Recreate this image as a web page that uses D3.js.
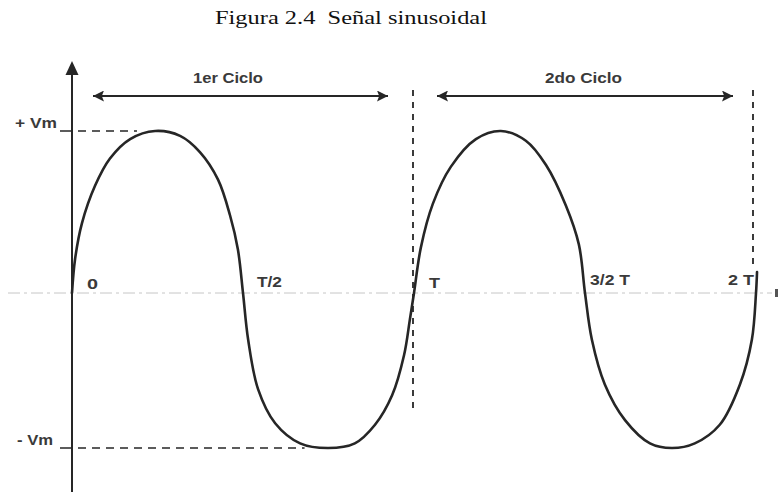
<!DOCTYPE html>
<html>
<head>
<meta charset="utf-8">
<script src="https://cdn.jsdelivr.net/npm/d3@7"></script>
<style>
  html, body { margin: 0; padding: 0; background: #fff; }
  svg { display: block; }
  text { white-space: pre; }
</style>
</head>
<body>
<svg id="chart" width="779" height="494"></svg>
<script>
// ---- data (phase in periods T, value in units of Vm) ----
const phase = [0, 0.009, 0.029, 0.067, 0.111, 0.170, 0.243, 0.316, 0.374, 0.427, 0.462, 0.485, 0.5,
               0.515, 0.544, 0.594, 0.667, 0.749, 0.827, 0.886, 0.936, 0.971, 0.988, 1.0,
               1.020, 1.055, 1.108, 1.181, 1.254, 1.327, 1.386, 1.444, 1.482, 1.5,
               1.520, 1.558, 1.617, 1.690, 1.754, 1.821, 1.894, 1.953, 1.988, 2.0, 2.003];
const values = [0, 0.21, 0.43, 0.66, 0.83, 0.95, 1.0, 0.97, 0.87, 0.70, 0.48, 0.27, 0,
                -0.30, -0.62, -0.84, -0.97, -1.0, -0.97, -0.85, -0.66, -0.40, -0.17, 0,
                0.28, 0.55, 0.78, 0.95, 1.0, 0.94, 0.79, 0.54, 0.30, 0,
                -0.30, -0.59, -0.82, -0.97, -1.0, -0.97, -0.85, -0.59, -0.30, 0, 0.13];
const xTickVals = [0, 0.5, 1, 1.5, 2];
const xTickLabels = ["0", "T/2", "T", "3/2 T", "2 T"];
const yTickVals = [1, -1];
const yTickLabels = ["+ Vm", "- Vm"];
const cycleStarts = [0, 1];
const cycleLabels = ["1er Ciclo", "2do Ciclo"];
const title = "Figura 2.4  Señal sinusoidal";

// ---- scales ----
const x = d3.scaleLinear().domain([0, 2]).range([72, 756]);
const y = d3.scaleLinear().domain([-1, 0, 1]).range([448, 293, 131]);

const svg = d3.select("#chart");
const ink = "#262626";
const labelInk = "#3a3a3a";
const labelFont = "'Liberation Sans', Arial, sans-serif";

// title (scan is horizontally stretched -> force its width)
svg.append("text")
  .attr("x", 215).attr("y", 24)
  .attr("font-family", "'Liberation Serif', 'Times New Roman', serif")
  .attr("font-size", 19.5)
  .attr("fill", "#111")
  .attr("textLength", 272).attr("lengthAdjust", "spacingAndGlyphs")
  .text(title);

// horizontal (time) axis - faint dotted line
svg.append("line")
  .attr("x1", 8).attr("x2", 772)
  .attr("y1", y(0)).attr("y2", y(0))
  .attr("stroke", "#c6c6c6").attr("stroke-width", 1)
  .attr("stroke-dasharray", "12,4,3,4");
svg.append("rect")
  .attr("x", 775).attr("y", y(0) - 4).attr("width", 3).attr("height", 8)
  .attr("fill", "#555");

// vertical axis with arrowhead
svg.append("line")
  .attr("x1", x(0)).attr("x2", x(0))
  .attr("y1", 492).attr("y2", 70)
  .attr("stroke", ink).attr("stroke-width", 2);
svg.append("path")
  .attr("d", d3.line()([[x(0), 61], [x(0) - 6.5, 75], [x(0) + 6.5, 75]]) + "Z")
  .attr("fill", ink);

// +Vm / -Vm reference dashes
const refEnd = [x(0.19), x(0.68)];
const yLabelBox = [[15, 128, 42], [17, 445, 36]];
yTickVals.forEach((v, i) => {
  svg.append("line")
    .attr("x1", x(0) - 12).attr("x2", x(0))
    .attr("y1", y(v)).attr("y2", y(v))
    .attr("stroke", ink).attr("stroke-width", 1.5);
  svg.append("line")
    .attr("x1", x(0) + 6).attr("x2", refEnd[i])
    .attr("y1", y(v)).attr("y2", y(v))
    .attr("stroke", ink).attr("stroke-width", 1.6)
    .attr("stroke-dasharray", "8,6");
  svg.append("text")
    .attr("x", yLabelBox[i][0]).attr("y", yLabelBox[i][1])
    .attr("font-family", labelFont).attr("font-weight", "bold")
    .attr("font-size", 14.5).attr("fill", labelInk)
    .attr("textLength", yLabelBox[i][2]).attr("lengthAdjust", "spacingAndGlyphs")
    .text(yTickLabels[i]);
});

// vertical dashed period markers
svg.append("line")
  .attr("x1", x(1) - 1).attr("x2", x(1) - 1)
  .attr("y1", 90).attr("y2", 412)
  .attr("stroke", ink).attr("stroke-width", 1.8)
  .attr("stroke-dasharray", "6,6");
svg.append("line")
  .attr("x1", x(2) - 3).attr("x2", x(2) - 3)
  .attr("y1", 90).attr("y2", 268)
  .attr("stroke", ink).attr("stroke-width", 1.8)
  .attr("stroke-dasharray", "6,6");

// double arrows for cycles
const defs = svg.append("defs");
defs.append("marker").attr("id", "ah")
  .attr("viewBox", "0 0 10 10").attr("refX", 10).attr("refY", 5)
  .attr("markerWidth", 16).attr("markerHeight", 11)
  .attr("markerUnits", "userSpaceOnUse")
  .attr("orient", "auto-start-reverse")
  .append("path").attr("d", "M0,0 L10,5 L0,10 L2,5 Z").attr("fill", ink);

const cycleLabelBox = [[193, 70], [545, 77]];
cycleStarts.forEach((c, i) => {
  const x1 = x(c) + (i === 0 ? 21 : 23);
  const x2 = x(c + 1) - (i === 0 ? 26 : 23);
  svg.append("line")
    .attr("x1", x1).attr("x2", x2)
    .attr("y1", 96).attr("y2", 96)
    .attr("stroke", ink).attr("stroke-width", 2)
    .attr("marker-start", "url(#ah)").attr("marker-end", "url(#ah)");
  svg.append("text")
    .attr("x", cycleLabelBox[i][0]).attr("y", 83)
    .attr("font-family", labelFont).attr("font-weight", "bold")
    .attr("font-size", 14).attr("fill", labelInk)
    .attr("textLength", cycleLabelBox[i][1]).attr("lengthAdjust", "spacingAndGlyphs")
    .text(cycleLabels[i]);
});

// x tick labels
const xLabelBox = [[87, 289, 11], [257, 287, 25], [429, 288, 11], [590, 285, 40], [728, 285, 26]];
xTickVals.forEach((t, i) => {
  svg.append("text")
    .attr("x", xLabelBox[i][0]).attr("y", xLabelBox[i][1])
    .attr("font-family", labelFont).attr("font-weight", "bold")
    .attr("font-size", 15).attr("fill", labelInk)
    .attr("textLength", xLabelBox[i][2]).attr("lengthAdjust", "spacingAndGlyphs")
    .text(xTickLabels[i]);
});

// the wave
const pts = phase.map((p, i) => [x(p), y(values[i])]);
svg.append("path")
  .attr("d", d3.line().curve(d3.curveCatmullRom.alpha(0.5))(pts))
  .attr("fill", "none")
  .attr("stroke", ink).attr("stroke-width", 2.6)
  .attr("stroke-linecap", "round");
</script>
</body>
</html>
